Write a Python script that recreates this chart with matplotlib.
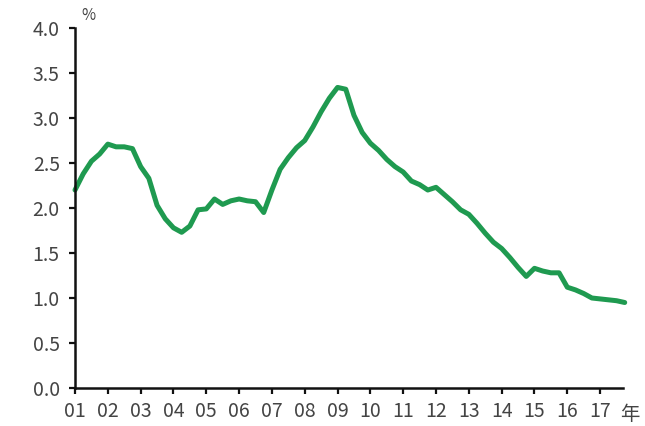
import numpy as np
import matplotlib.pyplot as plt

plt.rcParams['font.family'] = ['Noto Sans CJK JP', 'DejaVu Sans']

# quarterly rate, 2001Q1 - 2017Q4 (%)
rate = [2.20, 2.38, 2.52, 2.60, 2.71, 2.68, 2.68, 2.66,
        2.46, 2.33, 2.03, 1.88, 1.78, 1.73, 1.80, 1.98,
        1.99, 2.10, 2.04, 2.08, 2.10, 2.08, 2.07, 1.95,
        2.20, 2.43, 2.56, 2.67, 2.75, 2.90, 3.07, 3.22,
        3.34, 3.32, 3.03, 2.84, 2.72, 2.64, 2.54, 2.46,
        2.40, 2.30, 2.26, 2.20, 2.23, 2.15, 2.07, 1.98,
        1.93, 1.83, 1.72, 1.62, 1.55, 1.45, 1.34, 1.24,
        1.33, 1.30, 1.28, 1.28, 1.12, 1.09, 1.05, 1.00,
        0.99, 0.98, 0.97, 0.95]
years = ['01', '02', '03', '04', '05', '06', '07', '08', '09',
         '10', '11', '12', '13', '14', '15', '16', '17']
yticks = [0.0, 0.5, 1.0, 1.5, 2.0, 2.5, 3.0, 3.5, 4.0]

q = np.arange(len(rate))

fig = plt.figure(figsize=(6.45, 4.26), dpi=100)
ax = fig.add_axes([0.1163, 0.0892, 0.8497, 0.845])

ax.plot(q, rate, color='#1f9a50', lw=3.6, solid_joinstyle='round',
        solid_capstyle='round', clip_on=False)

ax.set_xlim(0, 66.8)
ax.set_ylim(0, 4)
ax.set_xticks(np.arange(len(years)) * 4)
ax.set_xticklabels(years)
ax.set_yticks(yticks)
ax.set_yticklabels(['%.1f' % v for v in yticks])

for s in ['top', 'right']:
    ax.spines[s].set_visible(False)
for s in ['left', 'bottom']:
    ax.spines[s].set_linewidth(1.8)
    ax.spines[s].set_color('#111111')

ax.tick_params(axis='both', direction='out', length=4, width=1.6,
               labelsize=14, labelcolor='#444444', color='#111111')
ax.tick_params(axis='y', pad=7)
ax.tick_params(axis='x', pad=5)

ax.text(0.012, 1.01, '%', transform=ax.transAxes, fontsize=11,
        color='#444444', ha='left', va='bottom')
ax.text(67.6, -0.3, '年', fontsize=14, color='#444444',
        ha='center', va='center', clip_on=False)

fig.savefig('out.png', dpi=100)
